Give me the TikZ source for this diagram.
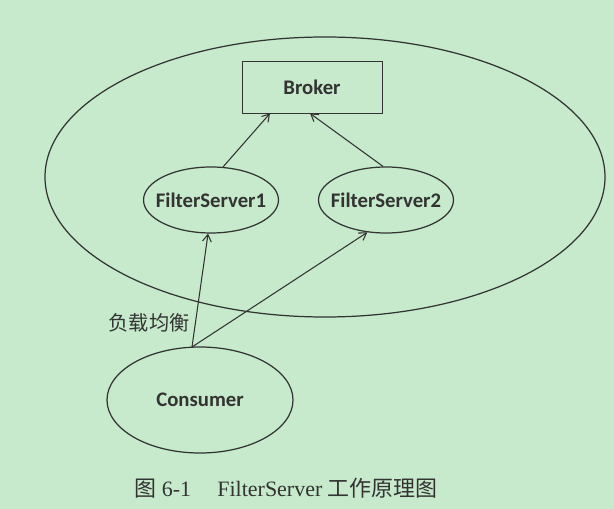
\documentclass[tikz,border=0pt]{standalone}
\usepackage{fontspec}
\setmainfont{Liberation Serif}
\newfontfamily\labelfont{Carlito}
\newfontfamily\cjkfont{Noto Sans CJK SC}
\usetikzlibrary{arrows.meta,shapes.geometric}
\definecolor{bgpaper}{HTML}{C6EACB}
\definecolor{ink}{HTML}{333333}

\begin{document}
\begin{tikzpicture}[x=0.02cm, y=-0.02cm,
  server/.style={ellipse, draw=ink, line width=0.7pt, minimum width=132*0.02cm,
    minimum height=66*0.02cm, inner xsep=-4.2pt, inner ysep=0pt,
    font=\labelfont\bfseries\fontsize{11.8}{13}\selectfont, text=ink},
  link/.style={-{Straight Barb[length=4pt,width=5pt]}, draw=ink, line width=0.6pt}]
% ---- paper ----
\fill[bgpaper] (0,0) rectangle (614,509);
\useasboundingbox (0,0) rectangle (614,509);
% ---- cluster boundary ----
\draw[ink, line width=0.7pt] (325,177) ellipse [x radius=280, y radius=140];
% ---- nodes ----
\node[draw=ink, line width=0.45pt, minimum width=140*0.02cm, minimum height=52*0.02cm,
  font=\labelfont\bfseries\fontsize{11.8}{13}\selectfont, text=ink] (broker) at (312,87) {Broker};
\foreach \n/\x in {1/211, 2/386} {
  \node[server] (fs\n) at (\x,200) {FilterServer\n};
}
\node[server, minimum width=186*0.02cm, minimum height=106*0.02cm] (consumer) at (200,400) {Consumer};
% ---- connectors ----
\coordinate (b1) at ([xshift=-42*0.02cm]broker.south);
\coordinate (b2) at ([xshift=-2*0.02cm]broker.south);
\coordinate (lb) at (192,347);
\draw[link] (fs1.70) -- (b1);
\draw[link] (fs2.95) -- (b2);
\draw[link] (lb) -- (fs1.265);
\draw[link] (lb) -- (fs2.240);
\node[font=\cjkfont\fontsize{11.5}{13}\selectfont, text=ink] (lbl) at (149,323) {负载均衡};
% ---- caption ----
\node[font=\fontsize{12.5}{15}\selectfont, text=ink] (cap) at (286,488)
  {{\cjkfont 图} 6-1\hspace{1.2em}FilterServer {\cjkfont 工作原理图}};
\end{tikzpicture}
\end{document}
